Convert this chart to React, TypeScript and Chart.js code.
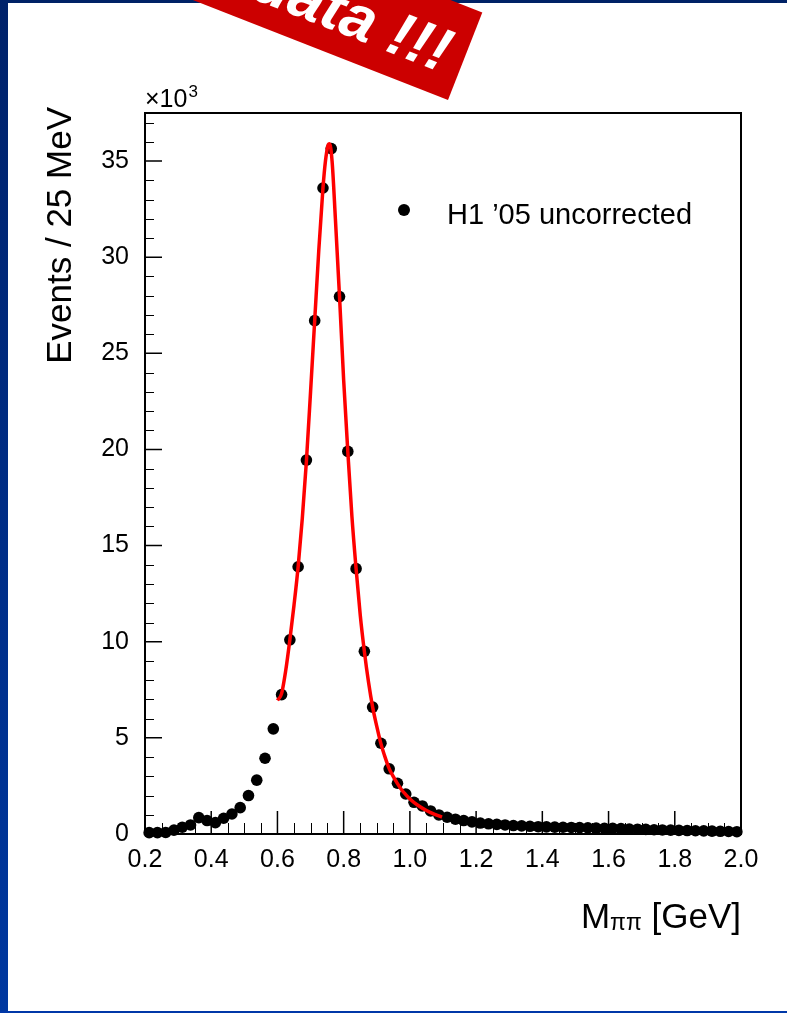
import React, { useEffect, useRef } from "react";
import { Chart, registerables } from "chart.js";

Chart.register(...registerables);

const FONT = "'Liberation Sans', Arial, Helvetica, sans-serif";

// Bin centres (GeV), 25 MeV bins from 0.2 to 2.0
const binCenters = [
  0.2125, 0.2375, 0.2625, 0.2875, 0.3125, 0.3375, 0.3625, 0.3875, 0.4125, 0.4375,
  0.4625, 0.4875, 0.5125, 0.5375, 0.5625, 0.5875, 0.6125, 0.6375, 0.6625, 0.6875,
  0.7125, 0.7375, 0.7625, 0.7875, 0.8125, 0.8375, 0.8625, 0.8875, 0.9125, 0.9375,
  0.9625, 0.9875, 1.0125, 1.0375, 1.0625, 1.0875, 1.1125, 1.1375, 1.1625, 1.1875,
  1.2125, 1.2375, 1.2625, 1.2875, 1.3125, 1.3375, 1.3625, 1.3875, 1.4125, 1.4375,
  1.4625, 1.4875, 1.5125, 1.5375, 1.5625, 1.5875, 1.6125, 1.6375, 1.6625, 1.6875,
  1.7125, 1.7375, 1.7625, 1.7875, 1.8125, 1.8375, 1.8625, 1.8875, 1.9125, 1.9375,
  1.9625, 1.9875,
];

// Events per bin (x 10^3)
const eventCounts = [
  0.07, 0.07, 0.08, 0.2, 0.35, 0.47, 0.85, 0.7, 0.59, 0.82,
  1.04, 1.37, 2.0, 2.8, 3.94, 5.47, 7.25, 10.1, 13.9, 19.45,
  26.7, 33.6, 35.65, 27.95, 19.9, 13.8, 9.5, 6.6, 4.72, 3.39,
  2.64, 2.08, 1.65, 1.46, 1.2, 0.99, 0.87, 0.77, 0.7, 0.63,
  0.57, 0.53, 0.5, 0.47, 0.44, 0.42, 0.4, 0.38, 0.37, 0.36,
  0.35, 0.34, 0.33, 0.32, 0.31, 0.3, 0.29, 0.28, 0.26, 0.25,
  0.24, 0.22, 0.21, 0.2, 0.19, 0.18, 0.17, 0.16, 0.15, 0.14,
  0.13, 0.12,
];

// Fit curve
const fitMass = [
  0.6, 0.6125, 0.625, 0.6375, 0.65, 0.6625, 0.675, 0.6875, 0.7, 0.7125,
  0.725, 0.7375, 0.745, 0.7525, 0.7575, 0.765, 0.775, 0.7875, 0.8, 0.8125,
  0.825, 0.8375, 0.85, 0.8625, 0.875, 0.8875, 0.9, 0.9125, 0.925, 0.9375,
  0.95, 0.9625, 0.975, 0.9875, 1.0, 1.025, 1.05, 1.075, 1.097,
];
const fitValues = [
  6.95, 7.3, 8.5, 10.1, 11.9, 13.9, 16.4, 19.4, 23.0, 26.7,
  30.4, 33.6, 35.0, 35.8, 35.9, 35.0, 32.0, 27.95, 23.6, 19.9,
  16.5, 13.8, 11.4, 9.5, 7.9, 6.6, 5.6, 4.7, 4.0, 3.4,
  2.98, 2.62, 2.3, 2.05, 1.82, 1.48, 1.22, 1.02, 0.88,
];

const xTickValues = [0.2, 0.4, 0.6, 0.8, 1.0, 1.2, 1.4, 1.6, 1.8, 2.0];
const yTickValues = [0, 5, 10, 15, 20, 25, 30, 35];

const legendLabel = "H1 \u201905 uncorrected";
const yTitle = "Events / 25 MeV";
const stampText = "data !!!";

const pagePlugin = {
  id: "page",
  beforeDraw(chart: any) {
    const ctx = chart.ctx;
    const W = chart.width;
    const H = chart.height;
    ctx.save();
    ctx.fillStyle = "#ffffff";
    ctx.fillRect(0, 0, W, H);
    ctx.fillStyle = "#002266";
    ctx.fillRect(0, 0, W, 3);
    const g = ctx.createLinearGradient(0, 0, 0, H);
    g.addColorStop(0, "#00226a");
    g.addColorStop(1, "#0038a0");
    ctx.fillStyle = g;
    ctx.fillRect(0, 0, 8, H);
    ctx.fillStyle = "#0038a8";
    ctx.fillRect(0, H - 2, W, 2);
    ctx.restore();
  },
  beforeDatasetsDraw(chart: any) {
    const ctx = chart.ctx;
    const { left, right, top, bottom } = chart.chartArea;
    const xs = chart.scales.x;
    const ys = chart.scales.y;
    ctx.save();
    ctx.strokeStyle = "#000";
    // minor ticks
    ctx.lineWidth = 1;
    ctx.beginPath();
    for (let i = 0; i <= 37; i++) {
      if (i % 5 === 0) continue;
      const py = Math.round(ys.getPixelForValue(i)) + 0.5;
      ctx.moveTo(left, py);
      ctx.lineTo(left + 9, py);
    }
    for (let i = 4; i <= 40; i++) {
      if (i % 4 === 0) continue;
      const px = Math.round(xs.getPixelForValue(i * 0.05)) + 0.5;
      ctx.moveTo(px, bottom);
      ctx.lineTo(px, bottom - 11);
    }
    ctx.stroke();
    // major ticks
    ctx.lineWidth = 1.5;
    ctx.beginPath();
    yTickValues.forEach((v) => {
      const py = ys.getPixelForValue(v);
      ctx.moveTo(left, py);
      ctx.lineTo(left + 17, py);
    });
    xTickValues.forEach((v) => {
      const px = xs.getPixelForValue(v);
      ctx.moveTo(px, bottom);
      ctx.lineTo(px, bottom - 23);
    });
    ctx.stroke();
    // frame
    ctx.lineWidth = 2;
    ctx.strokeRect(left, top, right - left, bottom - top);
    ctx.restore();
  },
  afterDraw(chart: any) {
    const ctx = chart.ctx;
    const { left, right, top } = chart.chartArea;
    ctx.save();
    ctx.fillStyle = "#000";
    // x10^3
    ctx.textAlign = "left";
    ctx.textBaseline = "alphabetic";
    ctx.font = `25px ${FONT}`;
    ctx.fillText("\u00d710", left, top - 6);
    const w10 = ctx.measureText("\u00d710").width;
    ctx.font = `17px ${FONT}`;
    ctx.fillText("3", left + w10 + 1, top - 16);

    // y title
    ctx.save();
    ctx.translate(71, top - 6);
    ctx.rotate(-Math.PI / 2);
    ctx.font = `35px ${FONT}`;
    ctx.textAlign = "right";
    ctx.fillText(yTitle, 0, 0);
    ctx.restore();

    // x title: M_{pi pi} [GeV]
    const big = `35px ${FONT}`;
    const small = `23px ${FONT}`;
    ctx.font = big;
    const wM = ctx.measureText("M").width;
    const wG = ctx.measureText(" [GeV]").width;
    ctx.font = small;
    const wP = ctx.measureText("\u03c0\u03c0").width;
    const xEnd = right;
    const base = 928;
    const x0 = xEnd - wG - wP - wM;
    ctx.textAlign = "left";
    ctx.font = big;
    ctx.fillText("M", x0, base);
    ctx.font = small;
    ctx.fillText("\u03c0\u03c0", x0 + wM, base + 2);
    ctx.font = big;
    ctx.fillText(" [GeV]", x0 + wM + wP, base);

    // legend
    ctx.beginPath();
    ctx.arc(404, 210, 6, 0, Math.PI * 2);
    ctx.fill();
    ctx.font = `29px ${FONT}`;
    ctx.fillText(legendLabel, 447, 224);

    // stamp
    ctx.save();
    ctx.translate(448, 100);
    ctx.rotate((21.4 * Math.PI) / 180);
    ctx.fillStyle = "#cc0000";
    ctx.fillRect(-700, -94, 700, 94);
    ctx.fillStyle = "#ffffff";
    ctx.font = `italic bold 62px ${FONT}`;
    ctx.textAlign = "right";
    ctx.fillText(stampText, -16, -23);
    ctx.restore();

    ctx.restore();
  },
};

export default function App() {
  const canvasRef = useRef<HTMLCanvasElement | null>(null);

  useEffect(() => {
    const canvas = canvasRef.current;
    if (!canvas) return;
    const chart = new Chart(canvas, {
      type: "scatter",
      data: {
        datasets: [
          {
            label: "fit",
            data: fitMass.map((m, i) => ({ x: m, y: fitValues[i] })),
            showLine: true,
            borderColor: "#ff0000",
            borderWidth: 3.5,
            pointRadius: 0,
            cubicInterpolationMode: "monotone",
            order: 0,
          } as any,
          {
            label: legendLabel,
            data: binCenters.map((m, i) => ({ x: m, y: eventCounts[i] })),
            showLine: false,
            pointRadius: 5.8,
            pointBackgroundColor: "#000",
            pointBorderWidth: 0,
            clip: false,
            order: 1,
          } as any,
        ],
      },
      options: {
        responsive: false,
        animation: false,
        devicePixelRatio: 1,
        events: [],
        layout: { padding: { top: 113, right: 46, left: 0, bottom: 0 } },
        plugins: { legend: { display: false }, tooltip: { enabled: false } },
        scales: {
          x: {
            type: "linear",
            min: 0.2,
            max: 2.0,
            afterBuildTicks: (s: any) => {
              s.ticks = xTickValues.map((v) => ({ value: v }));
            },
            afterFit: (s: any) => {
              s.height = 179;
            },
            grid: { display: false, drawTicks: false },
            border: { display: false },
            ticks: {
              autoSkip: false,
              maxRotation: 0,
              padding: 11,
              color: "#000",
              font: { family: FONT, size: 25 },
              callback: (v: any) => Number(v).toFixed(1),
            },
          },
          y: {
            type: "linear",
            min: 0,
            max: 37.5,
            afterBuildTicks: (s: any) => {
              s.ticks = yTickValues.map((v) => ({ value: v }));
            },
            afterFit: (s: any) => {
              s.width = 145;
            },
            grid: { display: false, drawTicks: false },
            border: { display: false },
            ticks: {
              padding: 16,
              color: "#000",
              font: { family: FONT, size: 25 },
              callback: (v: any) => String(v),
            },
          },
        },
      },
      plugins: [pagePlugin],
    });
    return () => chart.destroy();
  }, []);

  return (
    <div style={{ position: "absolute", left: 0, top: 0, width: 787, height: 1013 }}>
      <canvas ref={canvasRef} width={787} height={1013} style={{ display: "block" }} />
    </div>
  );
}
